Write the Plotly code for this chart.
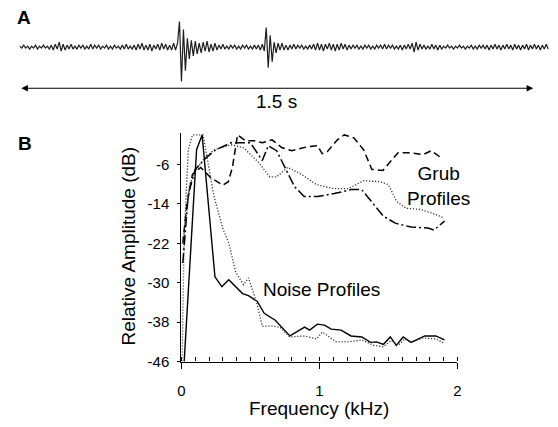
import plotly.graph_objects as go

# ---------------- Panel A: waveform (amplitude, arbitrary units) ----------------
trace_dt_s = 0.00576  # sample spacing of the displayed trace (s)
trace_amp = [
    1, -1, 2, -1, 1, -2, 1, -1, 2, -2, 1, -1, 2, -1, 1, -2, 2, -3, 3, -2,
    5, -4, 3, -3, 2, -2, 3, -2, 1, -2, 2, -1, 2, -2, 1, -2, 3, -2, 2, -1,
    2, -2, 1, -1, 2, -2, 1, -2, 2, -1, 1, -2, 2, -2, 3, -2, 1, -2, 2, -3,
    3, -2, 4, -3, 2, -3, 3, -4, 2, -2, 3, -3, 4, -2, 3, -3, 2, -3, 4, -3,
    4, 26, -35, 18, -24, 9, -12, 7, -9, 6, -7, 4, -6, 5, -4, 6, -5, 3, -4, 4,
    -3, 2, -2, 3, -2, 1, -2, 2, -1, 2, -2, 1, -2, 2, -1, 2, -2, 1, -2, 2,
    -2, 2, -3, 3, -4, 20, -21, 12, -15, 5, -6, 4, -3, 4, -3, 2, -3, 2, -2, 3,
    -2, 2, -1, 2, -2, 1, -2, 2, -2, 3, -3, 4, -3, 3, -4, 3, -2, 4, -3, 3,
    -4, 3, -3, 4, -2, 3, -3, 2, -2, 2, -1, 2, -2, 1, -2, 2, -1, 2, -2, 1,
    -2, 2, -1, 2, -2, 3, -2, 2, -1, 2, -2, 1, -2, 2, -3, 2, -2, 3, -2, 4,
    -5, 5, -3, 3, -2, 2, -2, 1, -2, 3, -2, 2, -3, 2, -2, 1, -1, 2, -1, 1,
    -2, 1, -1, 2, -1, 1, -2, 1, -1, 2, -2, 1, -2, 2, -1, 2, -2, 2, -3, 2,
    -2, 3, -2, 2, -3, 2, -2, 3, -2, 2, -3, 3, -2, 2, -3, 2, -2, 3, -3, 2,
    -2, 3, -2, 2, -3, 2, -2, 3, -2,
]
trace_t = [i * trace_dt_s for i in range(len(trace_amp))]
scale_bar_s = 1.5
scale_bar_label = "1.5 s"

# ---------------- Panel B: spectral profiles ----------------
noise1_f = [0.02, 0.11, 0.15, 0.243, 0.293, 0.343, 0.443, 0.486, 0.55, 0.6, 0.68, 0.786,
            0.893, 0.929, 0.986, 1.036, 1.086, 1.157, 1.229, 1.307, 1.371, 1.414, 1.464,
            1.514, 1.557, 1.607, 1.664, 1.764, 1.843, 1.907]
noise1_db = [-46, -3, 0, -28.8, -30.8, -29.4, -32.2, -32.6, -33.8, -36.2, -37.6, -40.8,
             -39, -39.6, -38.4, -38.6, -39.4, -39.6, -40.8, -41, -42.1, -42, -42.5,
             -41, -42.7, -41, -42.1, -40.8, -40.8, -41.6]

noise2_f = [0.005, 0.02, 0.05, 0.08, 0.157, 0.236, 0.3, 0.343, 0.393, 0.45, 0.486, 0.543,
            0.586, 0.657, 0.714, 0.786, 0.893, 0.979, 1.021, 1.121, 1.214, 1.307, 1.393,
            1.464, 1.521, 1.571, 1.621, 1.664, 1.75, 1.843, 1.907]
noise2_db = [-46, -20, -3, 0, 0, -12.5, -19, -21.9, -27.8, -30.4, -29, -33.8,
             -38.8, -38.8, -39, -41, -40.8, -41.4, -40, -42, -42, -41.6, -42.7,
             -43, -41.7, -42.7, -41.4, -42.1, -41.2, -41.4, -42.3]

grub_dash_f = [0.01, 0.04, 0.08, 0.14, 0.21, 0.3, 0.34, 0.37, 0.407, 0.464, 0.536, 0.586,
               0.657, 0.729, 0.8, 0.914, 0.986, 1.02, 1.057, 1.13, 1.18, 1.25, 1.32, 1.38,
               1.46, 1.49, 1.57, 1.66, 1.75, 1.81, 1.88]
grub_dash_db = [-22, -14, -8, -6.6, -8.6, -10.2, -9.5, -6.5, 0, -1.2, -1.2, -1.6,
                -1, -2.6, -3.2, -2.4, -2.2, -3.8, -3.4, -1, 0, -0.6, -3, -7,
                -7.2, -6.2, -3.6, -3.6, -4, -3.2, -4.6]

grub_dashdot_f = [0.01, 0.05, 0.1, 0.18, 0.25, 0.36, 0.5, 0.586, 0.629, 0.69, 0.75, 0.82,
                  0.89, 0.986, 1.107, 1.23, 1.307, 1.39, 1.464, 1.55, 1.664, 1.786, 1.83,
                  1.907]
grub_dashdot_db = [-26, -12, -7, -4.6, -3, -1.6, -1.6, -5.2, -2.2, -3.2, -6.6, -10.5,
                   -12.5, -12.5, -11.9, -11.1, -11.1, -13.9, -16.5, -17.9, -18.7, -18.9,
                   -19.3, -17.5]

grub_dot_f = [0.01, 0.06, 0.12, 0.17, 0.24, 0.36, 0.45, 0.56, 0.64, 0.69, 0.77, 0.87,
              0.98, 1.1, 1.21, 1.32, 1.44, 1.5, 1.56, 1.63, 1.73, 1.82, 1.9]
grub_dot_db = [-22, -10, -6.5, -4.6, -3, -2, -2.6, -5.6, -8.5, -8.5, -6.6, -8,
               -10.1, -10.9, -10.9, -9.3, -9.5, -10.1, -13.5, -14.9, -15.1, -15.9, -16.8]

FONT = "Liberation Sans, Arial, sans-serif"
W, H = 558, 427


def px(x):
    return x / W


def py(y):
    return 1 - y / H


fig = go.Figure()

# Panel A trace
fig.add_trace(go.Scatter(x=trace_t, y=trace_amp, xaxis="x2", yaxis="y2", mode="lines",
                         line=dict(color="#1e1e1e", width=1.2), showlegend=False,
                         hoverinfo="skip"))

# Panel B traces
fig.add_trace(go.Scatter(x=noise1_f, y=noise1_db, mode="lines", name="Noise 1",
                         line=dict(color="black", width=1.4), showlegend=False))
fig.add_trace(go.Scatter(x=noise2_f, y=noise2_db, mode="lines", name="Noise 2",
                         line=dict(color="#333", width=1.3, dash="1.2px,1.8px"),
                         showlegend=False))
fig.add_trace(go.Scatter(x=grub_dash_f, y=grub_dash_db, mode="lines", name="Grub 1",
                         line=dict(color="black", width=1.5, dash="7px,4px"), showlegend=False))
fig.add_trace(go.Scatter(x=grub_dashdot_f, y=grub_dashdot_db, mode="lines", name="Grub 2",
                         line=dict(color="black", width=1.5, dash="10px,3px,2px,3px"),
                         showlegend=False))
fig.add_trace(go.Scatter(x=grub_dot_f, y=grub_dot_db, mode="lines", name="Grub 3",
                         line=dict(color="#333", width=1.3, dash="1.2px,1.8px"),
                         showlegend=False))

fig.update_layout(
    width=W, height=H,
    margin=dict(l=0, r=0, t=0, b=0),
    paper_bgcolor="white", plot_bgcolor="white",
    font=dict(family=FONT, color="black", size=15),
    xaxis=dict(domain=[px(180), px(460)], range=[0, 2], anchor="y",
               tickmode="linear", tick0=0, dtick=1, ticks="outside", ticklen=6,
               tickcolor="black", tickwidth=1.2, showline=True, linecolor="black",
               linewidth=1.3, showgrid=False, zeroline=False,
               tickfont=dict(size=15), ticklabelstandoff=9,
               minor=dict(dtick=0.1, ticks="inside", ticklen=4, tickcolor="black",
                          tickwidth=1, showgrid=False)),
    yaxis=dict(domain=[py(368.5), py(136)], range=[-46, 0.3], anchor="x",
               tickmode="array", tickvals=[-46, -38, -30, -22, -14, -6],
               ticktext=["-46", "-38", "-30", "-22", "-14", "-6"],
               ticks="outside", ticklen=3, tickcolor="black", showline=True,
               linecolor="black", linewidth=1.3, showgrid=False, zeroline=False,
               tickfont=dict(size=15), ticklabelstandoff=5),
    xaxis2=dict(domain=[0, 1], range=[-16 / 347.3, 542 / 347.3], anchor="y2",
                visible=False),
    yaxis2=dict(domain=[py(110), py(8)], range=[-62, 40], anchor="x2",
                visible=False),
)

C = dict(xanchor="center", yanchor="middle", showarrow=False)
annotations = [
    dict(text="<b>A</b>", x=px(20), y=py(18), xref="paper", yref="paper",
         font=dict(size=19), **C),
    dict(text="<b>B</b>", x=px(21), y=py(146), xref="paper", yref="paper",
         font=dict(size=19), **C),
    # scale bar arrow for panel A
    dict(text="", x=scale_bar_s, y=-42, ax=0, ay=-42, xref="x2", yref="y2",
         axref="x2", ayref="y2", showarrow=True, arrowhead=2, arrowside="end+start",
         arrowsize=1.2, arrowwidth=1.1, arrowcolor="black", standoff=0, startstandoff=0),
    dict(text=scale_bar_label, x=scale_bar_s / 2, y=-55, xref="x2", yref="y2",
         font=dict(size=19), **C),
    dict(text="Frequency (kHz)", x=px(320), y=py(416), xref="paper", yref="paper",
         font=dict(size=19), **C),
    dict(text="Relative Amplitude (dB)", x=px(126), y=py(251), xref="paper", yref="paper",
         textangle=-90, font=dict(size=19), **C),
    dict(text="Noise Profiles", x=1.014, y=-31.4, xref="x", yref="y",
         font=dict(size=19), **C),
    dict(text="Grub<br>Profiles", x=1.86, y=-10.4, xref="x", yref="y",
         font=dict(size=19), **C),
]
fig.update_layout(annotations=annotations)

fig.write_html("out.html", config={"displayModeBar": False},
               post_script="document.body.style.margin='0px';")
